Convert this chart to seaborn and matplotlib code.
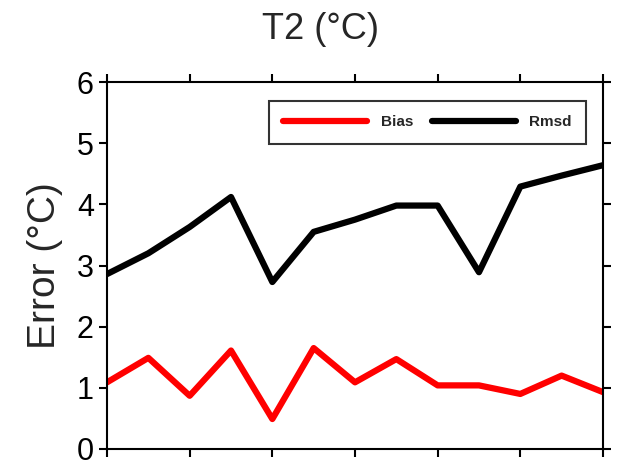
import pandas as pd
import matplotlib.pyplot as plt
import seaborn as sns

# valores (13 pontos)
steps = list(range(13))
bias = [1.09, 1.49, 0.87, 1.61, 0.49, 1.65, 1.09, 1.47, 1.04, 1.04, 0.90, 1.20, 0.93]
rmsd = [2.86, 3.20, 3.63, 4.12, 2.73, 3.55, 3.75, 3.98, 3.98, 2.89, 4.29, 4.47, 4.64]
series_names = ['Bias', 'Rmsd']
colors = ['#ff0000', '#000000']

df = pd.concat([
    pd.DataFrame({'step': steps, 'error': bias, 'serie': 'Bias'}),
    pd.DataFrame({'step': steps, 'error': rmsd, 'serie': 'Rmsd'}),
])

sns.set_style('ticks')
plt.rcParams['font.family'] = ['Liberation Sans', 'DejaVu Sans']

fig = plt.figure(figsize=(6.42, 4.66), dpi=100)
ax = fig.add_axes([0.1667, 0.0365, 0.7725, 0.7875])

sns.lineplot(data=df, x='step', y='error', hue='serie', hue_order=series_names,
             palette=colors, linewidth=4.5, ax=ax)

ax.set_xlim(0, 12)
ax.set_ylim(0, 6)
ax.set_xticks(range(0, 13, 2))
ax.set_xticklabels([])
ax.set_yticks(range(0, 7))
ax.tick_params(axis='both', direction='out', length=6, width=1.5,
               top=True, right=True, labelsize=22, colors='black')
for s in ax.spines.values():
    s.set_linewidth(1.5)
    s.set_color('black')

ax.set_xlabel('')
ax.set_ylabel('Error (°C)', fontsize=28, labelpad=10)
fig.suptitle('T2 (°C)', fontsize=26, y=0.975)

leg = ax.legend(ncol=2, loc='upper right', bbox_to_anchor=(0.982, 0.97),
                prop={'size': 11, 'weight': 'bold'}, handlelength=5.5,
                columnspacing=1.2, handletextpad=0.9,
                frameon=True, fancybox=False, edgecolor='black', borderpad=0.95)
leg.get_frame().set_linewidth(1.5)

fig.savefig('out.png', dpi=100)
